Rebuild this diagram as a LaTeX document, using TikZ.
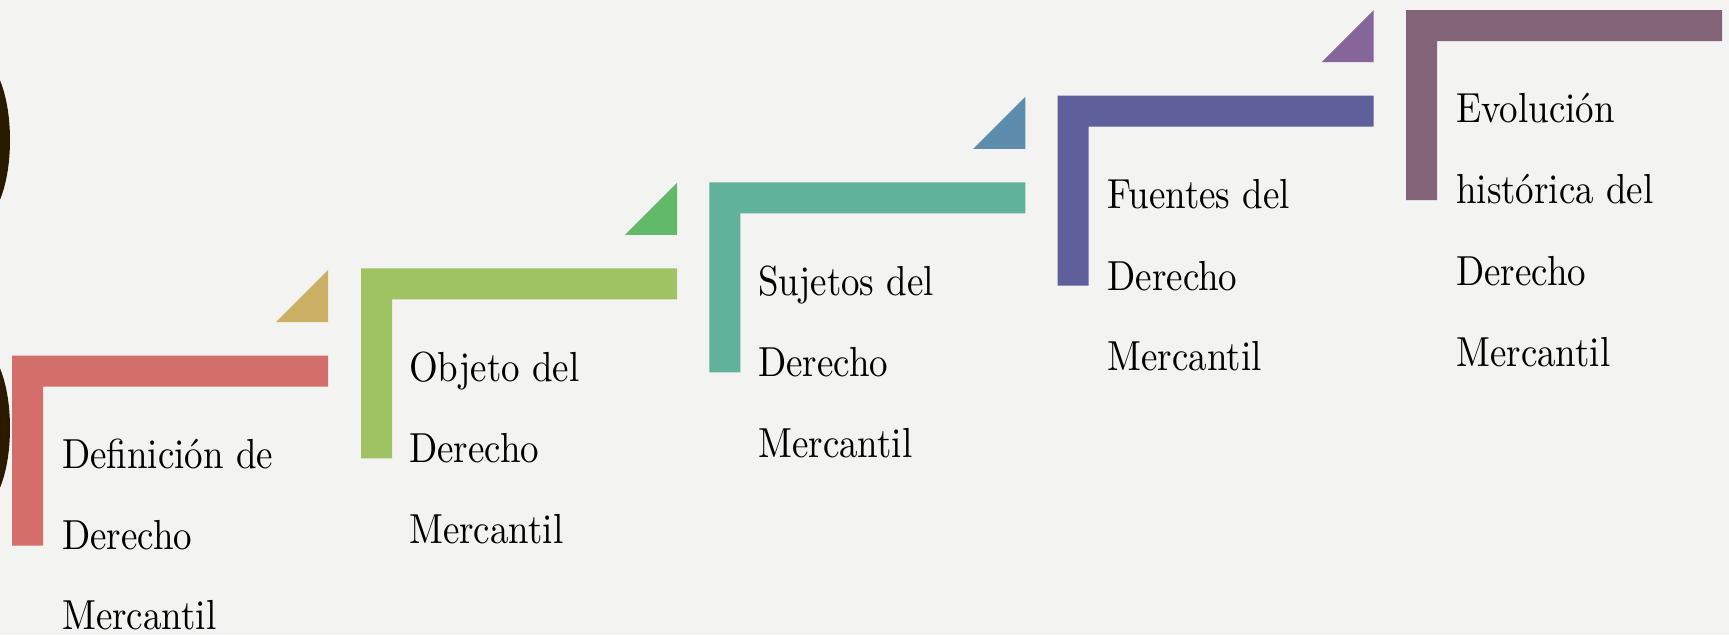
\documentclass[tikz,border=0pt]{standalone}
\usepackage{fontspec}
\newfontfamily\lblfont{lmroman10-regular.otf}[FakeStretch=0.88]
\definecolor{bg}{HTML}{F3F3F1}
\definecolor{dark}{HTML}{2A1A00}
\definecolor{redL}{HTML}{D46E6A}
\definecolor{goldT}{HTML}{CCB065}
\definecolor{greenL}{HTML}{A0C463}
\definecolor{greenT}{HTML}{62B968}
\definecolor{tealL}{HTML}{61B29B}
\definecolor{blueT}{HTML}{5E8CAC}
\definecolor{purpL}{HTML}{5F5F9B}
\definecolor{purpT}{HTML}{86659A}
\definecolor{mauveL}{HTML}{836377}
\tikzset{
  lbl/.style={anchor=base west, inner sep=0pt, text=black,
    font=\lblfont\fontsize{42}{42}\selectfont},
}
\begin{document}
\begin{tikzpicture}[x=1pt,y=-1pt]
\useasboundingbox (0,0) rectangle (1729,635);
\clip (0,0) rectangle (1729,635);
\fill[bg] (0,0) rectangle (1729,635);
% dark ellipses at left edge
\fill[dark] (-20,140) ellipse [x radius=30, y radius=80];
\fill[dark] (-20,428) ellipse [x radius=30, y radius=80];
% L-shaped brackets
\foreach \x/\y/\c in {12/355.6/redL, 361/268.3/greenL, 709.3/182.3/tealL, 1057.7/95.7/purpL, 1406/10/mauveL}{
  \fill[\c] (\x,\y) -- ++(316,0) -- ++(0,31) -- ++(-285,0) -- ++(0,159) -- ++(-31,0) -- cycle;
}
% triangles
\foreach \x/\y/\c in {12/355.6/goldT, 361/268.3/greenT, 709.3/182.3/blueT, 1057.7/95.7/purpT}{
  \fill[\c] (\x+264,\y-33.5) -- (\x+316,\y-85.5) -- (\x+316,\y-33.5) -- cycle;
}
% texts
\node[lbl] (t0a) at (62,468) {Definición de};
\node[lbl] (t0b) at (62,549) {Derecho};
\node[lbl] (t0c) at (62,629) {Mercantil};
\node[lbl] (t1a) at (409,381.7) {Objeto del};
\node[lbl] (t1b) at (409,462.3) {Derecho};
\node[lbl] (t1c) at (409,543) {Mercantil};
\node[lbl] (t2a) at (758,295) {Sujetos del};
\node[lbl] (t2b) at (758,376) {Derecho};
\node[lbl] (t2c) at (758,457) {Mercantil};
\node[lbl] (t3a) at (1107.3,208.3) {Fuentes del};
\node[lbl] (t3b) at (1107.3,290.7) {Derecho};
\node[lbl] (t3c) at (1107.3,370) {Mercantil};
\node[lbl] (t4a) at (1456,122.7) {Evolución};
\node[lbl] (t4b) at (1456,203.3) {histórica del};
\node[lbl] (t4c) at (1456,285) {Derecho};
\node[lbl] (t4d) at (1456,366.7) {Mercantil};
\end{tikzpicture}
\end{document}
